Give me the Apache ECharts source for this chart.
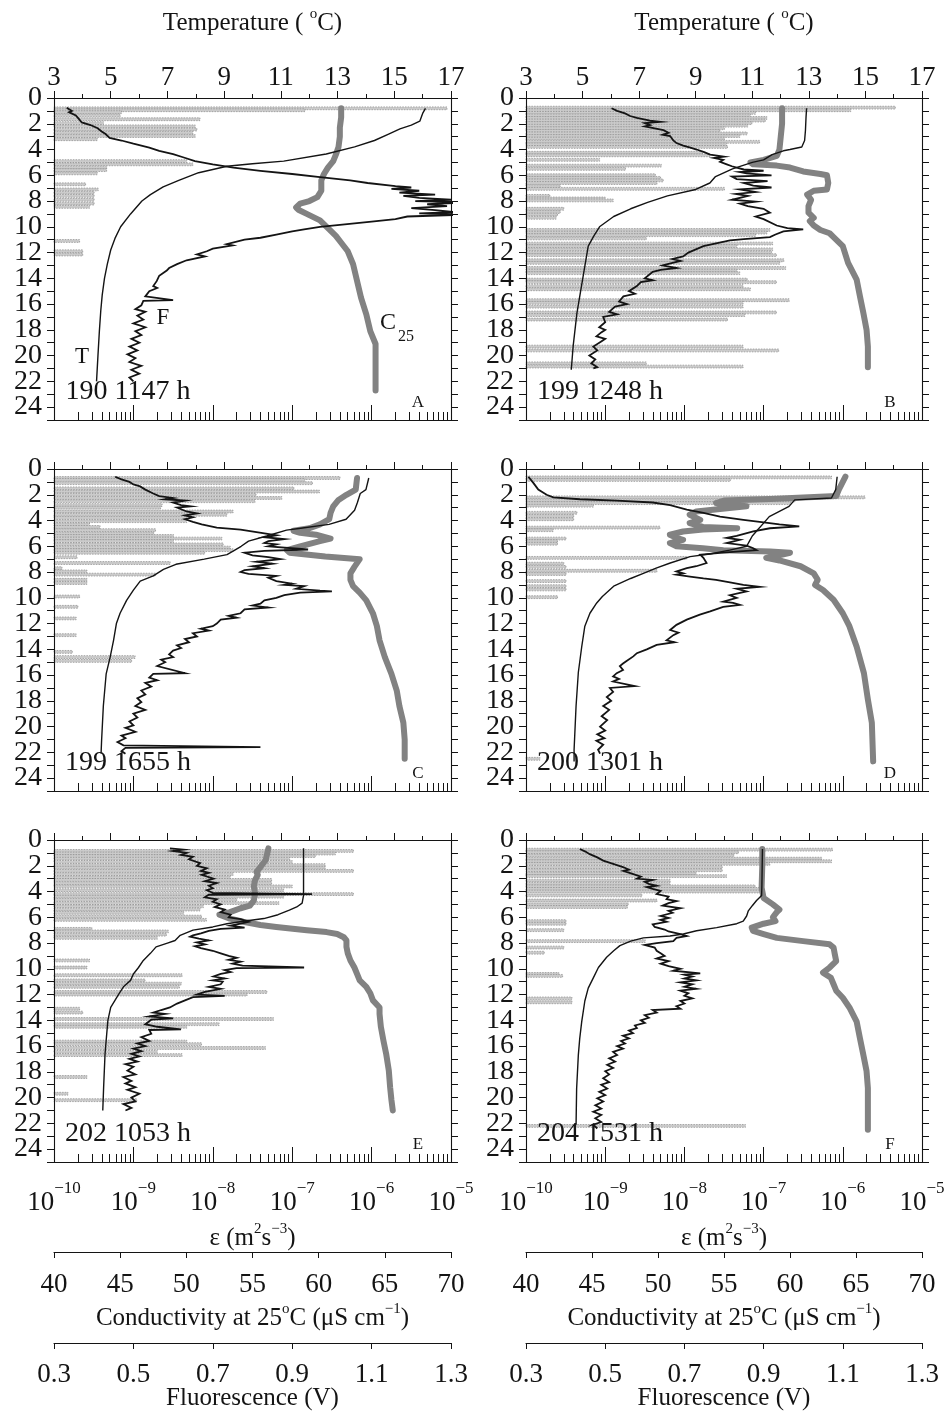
<!DOCTYPE html>
<html>
<head>
<meta charset="utf-8">
<script src="https://cdn.jsdelivr.net/npm/echarts@6/dist/echarts.min.js"></script>
<style>
  html, body { margin: 0; padding: 0; background: #ffffff; }
  #chart { width: 950px; height: 1416px; }
</style>
</head>
<body>
<div id="chart"></div>
<script>
// ---------- Axis tick values ----------
const tempMajor = [3, 5, 7, 9, 11, 13, 15, 17];
const tempMinor = [4, 6, 8, 10, 12, 14, 16];
const depthLabels = [0, 2, 4, 6, 8, 10, 12, 14, 16, 18, 20, 22, 24];
const condTicks = [40, 45, 50, 55, 60, 65, 70];
const fluoTicks = [0.3, 0.5, 0.7, 0.9, 1.1, 1.3];
const decades = [-10, -9, -8, -7, -6, -5];

// ---------- Profile labels ----------
const stamps = ['190 1147 h', '199 1248 h', '199 1655 h', '200 1301 h', '202 1053 h', '204 1531 h'];
const letters = ['A', 'B', 'C', 'D', 'E', 'F'];

// ---------- Profile A : [value, depth m] ----------
const tempA = [[16.1,0.8],[16.0,1.2],[15.9,1.8],[15.6,2.1],[15.2,2.4],[14.8,2.8],[14.3,3.3],[13.6,3.8],[12.6,4.35],[11.1,4.9],[10.0,5.1],[9.1,5.3],[8.1,5.8],[7.4,6.4],[6.85,6.9],[6.4,7.5],[6.1,8.0],[5.7,9.0],[5.35,10.0],[5.15,10.9],[5.0,11.8],[4.88,12.9],[4.78,14.0],[4.7,15.3],[4.65,16.5],[4.6,18.1],[4.55,20.0],[4.5,22.0]];
const condA = [[61.7,0.8],[61.7,1.5],[61.6,2.3],[61.6,3.0],[61.5,3.8],[61.3,4.4],[61.1,4.9],[60.7,5.4],[60.4,5.9],[60.2,6.4],[60.2,7.2],[59.9,7.7],[59.3,8.0],[58.6,8.2],[58.3,8.5],[58.5,8.7],[59.1,9.0],[60.1,9.5],[60.8,10.2],[61.3,10.7],[61.6,11.1],[62.2,11.9],[62.6,12.9],[62.9,14.2],[63.2,15.5],[63.6,16.8],[63.9,18.1],[64.3,19.1],[64.3,20.7],[64.3,22.7]];
const fluoA = [[0.332,0.75],[0.345,1.0],[0.338,1.1],[0.355,1.35],[0.362,1.6],[0.37,1.9],[0.392,2.1],[0.41,2.35],[0.42,2.6],[0.43,2.8],[0.425,2.95],[0.44,3.1],[0.47,3.3],[0.5,3.55],[0.54,3.85],[0.565,4.1],[0.6,4.35],[0.625,4.6],[0.655,4.9],[0.7,5.15],[0.752,5.4],[0.82,5.65],[0.9,5.9],[0.97,6.15],[1.046,6.4],[1.09,6.6],[1.16,6.85],[1.2,6.95],[1.15,7.05],[1.22,7.2],[1.17,7.35],[1.26,7.5],[1.18,7.6],[1.22,7.75],[1.3,7.9],[1.21,8.0],[1.34,8.1],[1.24,8.25],[1.29,8.4],[1.2,8.55],[1.26,8.7],[1.31,8.85],[1.22,8.95],[1.34,9.05],[1.19,9.2],[1.16,9.4],[1.1,9.6],[1.02,9.85],[0.97,10.0],[0.93,10.2],[0.9,10.35],[0.86,10.6],[0.82,10.85],[0.78,11.0],[0.735,11.35],[0.75,11.45],[0.7,11.7],[0.685,11.9],[0.66,12.15],[0.68,12.3],[0.634,12.6],[0.61,12.9],[0.59,13.2],[0.584,13.4],[0.565,13.8],[0.559,14.2],[0.55,14.6],[0.56,14.75],[0.54,15.0],[0.53,15.4],[0.6,15.7],[0.525,15.75],[0.52,16.1],[0.505,16.4],[0.53,16.6],[0.51,16.9],[0.525,17.2],[0.5,17.5],[0.53,17.8],[0.505,18.1],[0.52,18.4],[0.495,18.7],[0.515,19.0],[0.49,19.3],[0.51,19.6],[0.485,19.9],[0.505,20.2],[0.49,20.5],[0.52,20.8],[0.495,21.1],[0.515,21.4],[0.49,21.7],[0.5,22.0]];
const epsA = [[8.9e-6,0.8],[1.45e-7,0.95],[7.1e-10,1.1],[6.8e-10,1.35],[6.9e-9,1.65],[4.2e-10,1.95],[6.0e-9,2.2],[6.3e-9,2.45],[5.6e-9,2.7],[6.0e-9,2.95],[3.5e-10,3.2],[4.7e-9,4.9],[5.6e-9,5.15],[4.6e-10,5.4],[4.6e-10,5.6],[3.5e-10,5.85],[2.5e-10,6.7],[3.6e-10,7.1],[3.2e-10,7.35],[3.2e-10,7.6],[3.2e-10,7.9],[3.2e-10,8.2],[2.8e-10,8.45],[2.1e-10,11.1],[2.3e-10,11.9],[2.3e-10,12.15]];

// ---------- Profile B ----------
const tempB = [[12.92,0.8],[12.9,1.5],[12.88,2.5],[12.85,3.3],[12.75,3.8],[12.33,4.0],[12.1,4.1],[11.7,4.4],[11.4,4.8],[11.0,5.0],[10.3,5.5],[9.7,6.1],[9.5,6.6],[9.0,7.1],[8.0,7.6],[7.3,8.1],[6.7,8.6],[6.1,9.2],[5.6,10.0],[5.4,10.7],[5.2,11.5],[5.1,12.8],[5.0,14.1],[4.8,16.7],[4.67,19.2],[4.6,21.1]];
const condB = [[59.4,0.8],[59.4,2.0],[59.3,3.0],[59.2,4.0],[59.0,4.5],[58.0,4.8],[57.0,5.0],[57.2,5.15],[59.0,5.25],[60.0,5.4],[61.0,5.7],[62.3,5.9],[62.8,6.0],[62.9,6.6],[62.8,7.1],[61.8,7.2],[61.3,7.5],[61.6,7.9],[61.4,8.4],[61.4,8.9],[61.8,9.3],[61.5,9.55],[61.8,9.9],[62.3,10.25],[63.0,10.5],[63.3,10.8],[64.0,11.5],[64.4,12.8],[65.05,14.1],[65.3,15.4],[65.56,16.7],[65.8,18.0],[65.9,19.3],[65.9,20.9]];
const fluoB = [[0.516,0.8],[0.53,1.0],[0.55,1.2],[0.563,1.4],[0.58,1.55],[0.613,1.75],[0.64,1.85],[0.6,1.95],[0.613,2.1],[0.6,2.2],[0.625,2.35],[0.647,2.5],[0.66,2.7],[0.645,2.85],[0.664,2.95],[0.672,3.3],[0.68,3.5],[0.697,3.7],[0.715,3.85],[0.731,4.0],[0.75,4.2],[0.765,4.4],[0.8,4.55],[0.775,4.65],[0.798,4.8],[0.79,4.95],[0.807,5.15],[0.82,5.3],[0.832,5.4],[0.85,5.55],[0.9,5.65],[0.84,5.75],[0.857,5.85],[0.92,6.0],[0.82,6.1],[0.832,6.3],[0.91,6.45],[0.85,6.6],[0.874,6.8],[0.92,6.95],[0.84,7.1],[0.88,7.3],[0.83,7.45],[0.86,7.6],[0.82,7.9],[0.88,8.05],[0.84,8.2],[0.86,8.4],[0.9,8.6],[0.916,8.9],[0.88,9.2],[0.9,9.4],[0.933,9.9],[0.96,10.1],[1.0,10.2],[0.95,10.35],[0.93,10.6],[0.916,10.8],[0.85,10.95],[0.815,11.05],[0.748,11.5],[0.71,12.0],[0.697,12.3],[0.67,12.5],[0.69,12.65],[0.67,12.8],[0.645,13.0],[0.68,13.2],[0.64,13.35],[0.62,13.5],[0.6,14.0],[0.62,14.15],[0.59,14.3],[0.58,14.6],[0.56,15.0],[0.575,15.2],[0.546,15.4],[0.535,15.8],[0.555,16.0],[0.525,16.2],[0.51,16.6],[0.53,16.8],[0.495,17.0],[0.5,17.4],[0.485,17.8],[0.5,18.0],[0.49,18.2],[0.478,18.5],[0.5,18.7],[0.49,18.9],[0.47,19.3],[0.48,19.6],[0.46,20.0],[0.475,20.3],[0.465,20.6],[0.48,20.9],[0.47,21.0]];
const epsB = [[4.6e-6,0.75],[1.26e-6,0.95],[7.9e-8,1.15],[6.8e-8,1.35],[1.1e-7,1.55],[1.05e-7,1.75],[7.1e-8,1.95],[6.3e-8,2.15],[3.2e-8,2.35],[2.8e-8,2.55],[6.2e-8,2.75],[5.0e-8,2.95],[3.2e-8,3.15],[8.9e-8,3.4],[3.4e-8,3.6],[3.5e-8,3.8],[1.7e-8,4.25],[2.1e-8,4.45],[8.5e-10,4.8],[5.1e-9,5.25],[1.8e-9,5.5],[4.3e-9,6.0],[5.0e-9,6.2],[5.4e-9,6.4],[4.5e-9,6.6],[2.7e-10,6.85],[3.2e-8,7.05],[2.0e-10,7.6],[1.0e-9,7.8],[1.26e-9,7.95],[3.0e-10,8.6],[2.7e-10,8.85],[2.5e-10,9.05],[2.4e-10,9.3],[1.2e-7,10.25],[1.1e-7,10.45],[7.9e-8,10.65],[3.3e-9,10.9],[1.3e-7,11.3],[4.6e-8,11.5],[1.3e-7,11.75],[1.26e-7,12.0],[1.45e-7,12.2],[1.8e-7,12.6],[1.6e-7,12.8],[1.9e-7,13.2],[4.6e-8,13.4],[5.0e-8,13.6],[6.2e-8,14.1],[1.45e-7,14.3],[5.5e-8,14.6],[6.8e-8,14.85],[2.1e-7,15.7],[5.5e-8,15.9],[5.5e-8,16.2],[1.45e-7,16.65],[5.8e-8,16.85],[3.5e-8,17.2],[5.5e-8,19.3],[1.55e-7,19.6],[3.3e-9,20.6],[5.5e-8,20.85]];

// ---------- Profile C ----------
const tempC = [[14.1,0.7],[14.0,1.6],[13.8,1.9],[13.7,2.6],[13.6,3.2],[13.3,3.9],[12.7,4.3],[11.7,4.6],[11.2,4.75],[10.5,5.2],[9.86,5.6],[9.6,6.0],[9.3,6.4],[9.1,6.65],[8.3,7.0],[7.3,7.4],[6.86,7.8],[6.5,8.3],[6.04,8.7],[5.8,9.4],[5.56,10.2],[5.33,11.2],[5.2,12.0],[5.1,13.3],[4.98,14.6],[4.84,15.9],[4.74,18.4],[4.68,21.0],[4.66,22.1]];
const condC = [[62.9,0.7],[62.8,1.6],[62.1,2.0],[61.5,2.4],[61.1,2.9],[60.9,3.4],[60.8,3.9],[60.1,4.3],[59.3,4.6],[58.1,4.8],[58.6,4.95],[59.8,5.1],[60.9,5.4],[60.1,5.6],[58.6,6.0],[57.6,6.3],[57.8,6.5],[60.5,6.8],[63.1,7.0],[62.7,7.6],[62.4,8.1],[62.4,8.6],[62.6,9.1],[63.1,9.6],[63.6,10.2],[64.1,11.2],[64.4,12.2],[64.6,13.3],[65.0,14.6],[65.5,15.9],[65.9,17.2],[66.1,18.4],[66.4,19.7],[66.5,21.0],[66.5,22.5]];
const fluoC = [[0.454,0.6],[0.47,0.8],[0.49,1.0],[0.5,1.2],[0.517,1.35],[0.53,1.6],[0.55,1.9],[0.565,2.1],[0.6,2.25],[0.58,2.35],[0.63,2.45],[0.6,2.6],[0.62,2.8],[0.645,2.9],[0.61,3.0],[0.634,3.3],[0.66,3.45],[0.63,3.6],[0.65,3.75],[0.63,3.9],[0.65,4.1],[0.672,4.3],[0.71,4.55],[0.77,4.7],[0.83,5.0],[0.86,5.15],[0.83,5.3],[0.88,5.45],[0.84,5.6],[0.83,5.75],[0.86,5.85],[0.84,6.0],[0.94,6.25],[0.83,6.35],[0.78,6.5],[0.8,6.7],[0.84,6.85],[0.87,7.0],[0.81,7.2],[0.85,7.35],[0.8,7.55],[0.83,7.7],[0.78,7.85],[0.77,8.0],[0.79,8.15],[0.86,8.3],[0.84,8.45],[0.86,8.7],[0.9,8.9],[0.88,9.0],[0.93,9.1],[0.91,9.3],[0.97,9.45],[1.0,9.5],[0.92,9.6],[0.88,9.8],[0.86,10.0],[0.83,10.2],[0.82,10.45],[0.8,10.6],[0.84,10.75],[0.78,10.9],[0.77,11.2],[0.74,11.4],[0.76,11.55],[0.72,11.7],[0.71,12.0],[0.7,12.2],[0.67,12.4],[0.69,12.55],[0.65,12.75],[0.66,13.0],[0.63,13.2],[0.64,13.45],[0.61,13.7],[0.62,13.9],[0.6,14.1],[0.59,14.4],[0.6,14.6],[0.57,14.8],[0.58,15.0],[0.56,15.3],[0.63,15.85],[0.55,15.9],[0.54,16.2],[0.56,16.4],[0.53,16.6],[0.545,16.9],[0.52,17.2],[0.53,17.5],[0.51,17.8],[0.52,18.1],[0.505,18.4],[0.53,18.7],[0.5,19.0],[0.51,19.3],[0.49,19.6],[0.5,19.9],[0.48,20.1],[0.505,20.4],[0.47,20.7],[0.48,20.9],[0.46,21.2],[0.475,21.45],[0.82,21.6],[0.48,21.65],[0.47,21.9],[0.48,22.1]];
const epsC = [[4.0e-7,0.7],[1.45e-7,0.85],[1.8e-7,1.1],[1.05e-7,1.5],[2.2e-7,1.75],[3.5e-8,2.0],[7.4e-8,2.25],[3.4e-8,2.5],[2.3e-9,2.8],[2.2e-9,3.0],[1.8e-8,3.3],[1.5e-8,3.55],[4.7e-9,3.8],[4.7e-9,4.05],[2.8e-10,4.3],[3.8e-10,4.5],[1.9e-9,4.75],[1.8e-9,5.0],[3.2e-9,5.2],[1.3e-8,5.4],[3.2e-9,5.6],[1.35e-8,5.85],[1.66e-8,6.1],[1.8e-8,6.3],[7.9e-9,6.5],[1.95e-10,6.85],[2.9e-9,7.3],[1.26e-10,7.7],[2.6e-10,7.95],[1.9e-9,8.2],[2.6e-10,8.6],[2.6e-10,8.85],[2.1e-10,9.9],[2.0e-10,10.7],[1.9e-10,11.6],[1.9e-10,12.9],[1.7e-10,14.2],[1.05e-9,14.6],[9.5e-10,14.9]];

// ---------- Profile D ----------
const tempD = [[14.0,0.6],[13.95,1.6],[13.8,2.25],[12.5,2.4],[12.3,2.9],[11.6,3.7],[11.4,4.2],[11.2,4.7],[11.0,5.2],[10.9,5.6],[10.8,6.0],[10.2,6.3],[9.5,6.6],[8.8,6.8],[8.1,7.3],[7.6,7.7],[7.15,8.1],[6.7,8.5],[6.1,9.1],[5.7,9.9],[5.5,10.4],[5.26,11.2],[5.08,12.2],[4.97,13.8],[4.85,15.8],[4.77,18.4],[4.7,21.8],[4.7,22.7]];
const condD = [[64.2,0.6],[63.7,1.6],[63.5,2.1],[63.5,2.25],[58.5,2.33],[55.0,2.45],[54.4,2.65],[56.7,2.9],[54.7,3.1],[52.9,3.3],[52.4,3.55],[53.2,3.95],[52.4,4.2],[53.4,4.5],[56.0,4.6],[53.4,4.7],[51.9,4.85],[50.9,5.1],[51.4,5.35],[51.9,5.5],[50.9,5.75],[51.4,6.0],[53.4,6.15],[54.95,6.3],[58.5,6.4],[60.0,6.5],[59.0,6.75],[58.2,6.9],[59.2,7.1],[60.8,7.55],[61.8,8.1],[62.1,8.6],[61.9,9.0],[62.5,9.4],[63.3,10.15],[64.0,11.2],[64.5,12.2],[65.05,13.8],[65.6,15.85],[65.9,17.9],[66.2,19.7],[66.3,22.7]];
const fluoD = [[0.306,0.6],[0.319,1.1],[0.331,1.6],[0.344,1.85],[0.352,2.0],[0.369,2.2],[0.436,2.35],[0.529,2.45],[0.62,2.6],[0.664,2.8],[0.706,3.15],[0.748,3.4],[0.79,3.7],[0.849,3.95],[0.89,4.1],[0.94,4.3],[0.99,4.45],[0.916,4.6],[0.874,4.85],[0.832,5.2],[0.807,5.35],[0.84,5.5],[0.807,5.75],[0.857,5.95],[0.874,6.15],[0.882,6.3],[0.798,6.5],[0.74,6.65],[0.748,6.9],[0.756,7.3],[0.73,7.55],[0.706,7.7],[0.68,7.95],[0.697,8.1],[0.68,8.2],[0.714,8.35],[0.748,8.5],[0.78,8.6],[0.815,8.8],[0.849,9.0],[0.89,9.15],[0.832,9.3],[0.857,9.5],[0.815,9.8],[0.832,10.0],[0.798,10.3],[0.823,10.4],[0.84,10.55],[0.798,10.7],[0.765,11.05],[0.739,11.3],[0.706,11.7],[0.68,12.1],[0.664,12.5],[0.685,12.7],[0.672,12.9],[0.655,13.3],[0.675,13.45],[0.63,13.65],[0.605,14.0],[0.58,14.3],[0.571,14.55],[0.554,14.9],[0.545,15.1],[0.537,15.3],[0.545,15.6],[0.529,15.85],[0.52,16.1],[0.535,16.3],[0.52,16.5],[0.575,16.85],[0.512,17.0],[0.52,17.3],[0.504,17.7],[0.515,18.0],[0.495,18.4],[0.51,18.7],[0.491,19.2],[0.505,19.5],[0.487,20.0],[0.5,20.3],[0.48,20.6],[0.498,20.9],[0.478,21.1],[0.495,21.4],[0.482,21.8],[0.487,22.1]];
const epsD = [[7.2e-7,0.65],[3.8e-8,0.85],[1.9e-6,2.2],[2.5e-7,2.45],[2.2e-7,2.65],[7.1e-10,2.85],[4.4e-10,3.4],[4.0e-10,3.65],[4.0e-10,3.9],[4.9e-9,4.55],[2.2e-10,4.75],[3.2e-10,5.4],[2.5e-10,5.6],[2.5e-10,5.8],[1.07e-8,6.9],[3.0e-10,7.35],[3.2e-10,7.6],[4.5e-9,7.9],[3.2e-10,8.15],[3.2e-10,8.7],[3.2e-10,9.1],[3.2e-10,9.35],[2.5e-10,9.95],[1.5e-10,22.5]];

// ---------- Profile E ----------
const tempE = [[11.8,0.65],[11.8,2.0],[11.8,3.0],[11.8,4.3],[11.75,4.9],[11.56,5.2],[11.3,5.45],[10.9,5.8],[10.4,6.1],[9.56,6.35],[9.1,6.5],[8.6,6.75],[7.9,7.0],[7.45,7.4],[7.27,7.8],[7.0,8.0],[6.6,8.3],[6.4,8.8],[6.15,9.35],[5.98,9.9],[5.8,10.4],[5.7,10.9],[5.45,11.4],[5.3,11.9],[5.15,12.45],[5.0,13.0],[4.9,14.0],[4.85,15.3],[4.8,16.6],[4.75,19.2],[4.72,21.0]];
const condE = [[56.2,0.65],[56.0,1.55],[55.6,2.1],[55.3,2.5],[55.4,2.7],[55.2,3.1],[55.1,3.6],[55.2,4.15],[55.1,4.7],[54.8,5.1],[54.1,5.3],[53.3,5.6],[52.5,5.8],[53.3,6.1],[54.3,6.35],[55.6,6.6],[56.8,6.75],[59.1,7.0],[60.6,7.15],[61.4,7.3],[61.9,7.55],[62.1,7.8],[62.1,8.3],[62.2,8.8],[62.4,9.35],[62.7,9.9],[62.9,10.4],[63.1,10.9],[63.6,11.4],[63.9,11.9],[64.1,12.45],[64.6,13.0],[64.6,13.5],[64.7,14.5],[64.9,15.6],[65.1,16.6],[65.3,17.9],[65.4,19.2],[65.5,20.2],[65.6,21.0]];
const fluoE = [[0.592,0.65],[0.626,0.75],[0.6,0.85],[0.634,1.0],[0.62,1.15],[0.65,1.3],[0.64,1.5],[0.668,1.8],[0.66,2.0],[0.685,2.2],[0.67,2.4],[0.69,2.55],[0.672,2.7],[0.702,3.0],[0.68,3.2],[0.71,3.35],[0.69,3.55],[0.7,3.75],[0.685,3.9],[0.7,4.1],[0.95,4.2],[0.69,4.25],[0.68,4.45],[0.71,4.6],[0.7,4.8],[0.72,5.0],[0.705,5.2],[0.73,5.4],[0.72,5.6],[0.745,5.8],[0.74,6.0],[0.77,6.15],[0.79,6.35],[0.77,6.5],[0.745,6.65],[0.78,6.8],[0.72,6.9],[0.69,7.05],[0.67,7.25],[0.65,7.4],[0.643,7.5],[0.665,7.65],[0.69,7.8],[0.66,7.95],[0.68,8.1],[0.655,8.25],[0.67,8.4],[0.7,8.6],[0.72,8.8],[0.74,9.0],[0.76,9.15],[0.74,9.3],[0.77,9.45],[0.75,9.6],[0.775,9.75],[0.93,9.9],[0.76,9.95],[0.73,10.1],[0.745,10.25],[0.72,10.4],[0.702,10.6],[0.73,10.75],[0.7,10.9],[0.725,11.0],[0.72,11.2],[0.69,11.4],[0.72,11.55],[0.68,11.8],[0.66,12.0],[0.73,12.1],[0.65,12.2],[0.63,12.45],[0.61,12.7],[0.592,13.0],[0.57,13.2],[0.55,13.4],[0.58,13.5],[0.54,13.7],[0.6,13.85],[0.545,13.95],[0.55,14.1],[0.53,14.3],[0.56,14.5],[0.62,14.7],[0.54,14.75],[0.545,15.05],[0.52,15.3],[0.54,15.6],[0.51,15.8],[0.53,16.0],[0.5,16.2],[0.52,16.4],[0.495,16.6],[0.515,16.8],[0.49,17.0],[0.51,17.2],[0.48,17.4],[0.5,17.6],[0.485,17.9],[0.505,18.2],[0.475,18.4],[0.495,18.7],[0.48,18.9],[0.505,19.2],[0.485,19.4],[0.515,19.7],[0.495,20.0],[0.505,20.3],[0.475,20.5],[0.495,20.8],[0.48,21.0]];
const epsE = [[5.9e-7,0.85],[3.5e-7,1.05],[1.95e-7,1.25],[9.3e-8,1.45],[1.0e-7,1.7],[2.6e-7,1.95],[2.6e-7,2.15],[5.9e-7,2.4],[1.8e-8,2.65],[1.66e-8,2.9],[5.5e-8,3.1],[5.5e-8,3.35],[1.0e-7,3.6],[7.8e-8,3.9],[5.9e-7,4.2],[7.8e-8,4.4],[2.0e-8,4.65],[6.8e-8,4.9],[7.6e-9,5.15],[6.9e-9,5.4],[4.3e-9,5.65],[7.2e-9,5.95],[8.3e-9,6.2],[3.0e-10,6.9],[2.75e-9,7.1],[2.6e-9,7.35],[2.0e-9,7.6],[2.8e-10,9.35],[2.6e-10,9.9],[4.1e-9,10.5],[1.4e-9,10.9],[4.0e-9,11.15],[3.8e-9,11.4],[4.8e-8,11.8],[2.7e-8,12.0],[2.1e-10,13.1],[2.3e-10,13.4],[5.8e-8,13.9],[1.2e-8,14.3],[4.7e-9,14.5],[4.7e-9,15.65],[7.2e-9,15.85],[4.6e-8,16.15],[2.0e-9,16.45],[4.1e-9,16.7],[2.6e-10,18.4],[1.5e-10,19.7],[1.1e-9,20.2]];

// ---------- Profile F ----------
const tempF = [[11.36,0.7],[11.35,2.0],[11.34,3.5],[11.33,4.3],[11.15,4.7],[11.0,5.1],[10.86,5.5],[10.8,5.9],[10.68,6.3],[10.45,6.5],[9.74,6.8],[9.03,7.05],[8.56,7.3],[8.09,7.45],[7.15,7.6],[6.7,7.85],[6.32,8.2],[6.1,8.6],[5.85,9.1],[5.56,9.9],[5.38,10.7],[5.2,11.5],[5.08,12.5],[4.97,14.1],[4.9,15.4],[4.85,16.7],[4.79,19.3],[4.77,22.1]];
const condF = [[57.9,0.7],[57.9,2.0],[57.85,3.7],[58.0,4.5],[58.7,5.0],[59.2,5.4],[59.0,5.6],[58.7,6.0],[58.9,6.3],[58.0,6.5],[57.1,6.8],[57.2,7.05],[58.0,7.3],[59.0,7.6],[61.0,7.85],[63.0,8.1],[63.3,8.35],[63.4,8.9],[63.5,9.4],[63.0,9.9],[62.5,10.3],[63.1,10.7],[63.3,11.2],[63.5,11.7],[64.0,12.25],[64.5,13.0],[65.05,14.1],[65.3,15.4],[65.56,16.7],[65.8,17.95],[65.9,19.25],[65.9,20.5],[65.9,22.5]];
const fluoF = [[0.436,0.7],[0.45,0.9],[0.461,1.1],[0.48,1.35],[0.495,1.6],[0.52,1.85],[0.545,2.1],[0.56,2.3],[0.546,2.4],[0.571,2.65],[0.59,2.85],[0.58,3.0],[0.62,3.1],[0.6,3.25],[0.61,3.4],[0.63,3.55],[0.605,3.65],[0.62,3.8],[0.64,3.95],[0.63,4.2],[0.66,4.4],[0.655,4.6],[0.68,4.75],[0.66,4.9],[0.645,5.1],[0.69,5.3],[0.66,5.5],[0.67,5.65],[0.64,5.9],[0.66,6.05],[0.64,6.2],[0.655,6.35],[0.62,6.55],[0.625,6.75],[0.65,6.95],[0.66,7.1],[0.69,7.3],[0.706,7.45],[0.68,7.6],[0.672,7.85],[0.63,8.0],[0.6,8.15],[0.625,8.35],[0.63,8.6],[0.64,8.8],[0.65,9.0],[0.63,9.2],[0.66,9.4],[0.64,9.6],[0.66,9.8],[0.69,10.0],[0.672,10.15],[0.74,10.35],[0.7,10.45],[0.72,10.6],[0.7,10.75],[0.73,10.9],[0.69,11.05],[0.72,11.2],[0.7,11.4],[0.73,11.55],[0.69,11.7],[0.71,11.9],[0.7,12.1],[0.72,12.3],[0.69,12.5],[0.7,12.7],[0.68,12.9],[0.69,13.1],[0.62,13.2],[0.63,13.4],[0.6,13.6],[0.61,13.8],[0.59,14.0],[0.6,14.2],[0.575,14.4],[0.58,14.6],[0.56,14.8],[0.57,15.0],[0.545,15.2],[0.56,15.4],[0.54,15.6],[0.55,15.8],[0.53,16.0],[0.545,16.2],[0.52,16.45],[0.53,16.7],[0.51,16.95],[0.525,17.2],[0.505,17.45],[0.52,17.7],[0.5,17.95],[0.51,18.2],[0.495,18.5],[0.51,18.8],[0.49,19.0],[0.505,19.3],[0.485,19.55],[0.5,19.8],[0.48,20.05],[0.495,20.3],[0.475,20.6],[0.49,20.85],[0.47,21.1],[0.49,21.35],[0.475,21.6],[0.49,21.9],[0.47,22.1],[0.48,22.4]];
const epsF = [[7.4e-7,0.75],[4.8e-8,0.95],[4.2e-8,1.2],[5.4e-7,1.45],[7.2e-7,1.65],[1.2e-7,1.85],[3.0e-8,2.1],[3.0e-8,2.35],[1.4e-8,2.6],[3.4e-8,2.8],[6.6e-9,3.15],[6.6e-9,3.4],[7.8e-8,3.6],[1.0e-7,3.8],[1.0e-7,4.0],[2.9e-9,4.3],[4.5e-9,4.7],[1.95e-9,5.0],[1.9e-9,5.2],[3.2e-10,6.3],[3.2e-10,6.5],[3.0e-10,7.0],[3.2e-9,7.85],[3.0e-10,8.35],[1.7e-10,8.75],[2.6e-10,10.4],[2.9e-10,10.55],[3.8e-10,12.3],[3.8e-10,12.6],[5.9e-8,22.2]];

// ---------- Layout ----------
const panels = [
  { temp: tempA, cond: condA, fluo: fluoA, eps: epsA },
  { temp: tempB, cond: condB, fluo: fluoB, eps: epsB },
  { temp: tempC, cond: condC, fluo: fluoC, eps: epsC },
  { temp: tempD, cond: condD, fluo: fluoD, eps: epsD },
  { temp: tempE, cond: condE, fluo: fluoE, eps: epsE },
  { temp: tempF, cond: condF, fluo: fluoF, eps: epsF }
];

const SERIF = "'Liberation Serif','Times New Roman','DejaVu Serif',serif";
const INK = '#141414';
const COL_LEFT = [54, 526];
const COL_W = [397, 396];
const ROW_TOP = [98, 469, 840];
const PANEL_H = 322;
const EPS_MIN = 1e-10, EPS_MAX = 1e-5;
const BAR_HALF = 0.11;          // half thickness of a dissipation bar, in metres

// depth labels are split over two stacked label rings so neighbours never collide
const depthLabelsEven = depthLabels.filter(function (v, k) { return k % 2 === 0; });
const depthLabelsOdd = depthLabels.filter(function (v, k) { return k % 2 === 1; });

// minor ticks of the logarithmic dissipation axis, in decade units
const epsMinor = [];
decades.slice(0, -1).forEach(function (e) {
  for (let k = 2; k <= 9; k++) epsMinor.push(e + Math.log10(k));
});

const axisLine = { show: true, onZero: false, lineStyle: { color: INK, width: 1.1 } };
const tickStyle = { color: INK, width: 1 };
const minus = '\u2212';
const depthLabelStyle = { showMinLabel: true, showMaxLabel: true, margin: 12,
  fontFamily: SERIF, fontSize: 28, color: INK };

function barItem(params, api) {
  const eps = api.value(0), d = api.value(1);
  const a = api.coord([EPS_MIN, d - BAR_HALF]);
  const b = api.coord([eps, d + BAR_HALF]);
  return {
    type: 'rect',
    shape: { x: a[0], y: a[1], width: b[0] - a[0], height: b[1] - a[1] },
    style: { fill: '#cbcbcb', stroke: '#8a8a8a', lineWidth: 0.7, lineDash: [1.5, 1.2] }
  };
}

const grid = [], xAxis = [], yAxis = [], series = [], graphic = [];

panels.forEach(function (p, i) {
  const col = i % 2, row = Math.floor(i / 2);
  const left = COL_LEFT[col], top = ROW_TOP[row], w = COL_W[col];
  grid.push({ left: left, top: top, width: w, height: PANEL_H });
  const xb = xAxis.length, yb = yAxis.length;

  // temperature (top)
  xAxis.push({
    gridIndex: i, type: 'value', position: 'top', min: 3, max: 17, interval: 1, z: 5,
    axisLine: axisLine, splitLine: { show: false },
    axisTick: { show: true, length: 7, customValues: tempMajor, lineStyle: tickStyle },
    axisLabel: { show: row === 0, customValues: tempMajor, showMinLabel: true, showMaxLabel: true,
      margin: 7, fontFamily: SERIF, fontSize: 27, color: INK }
  });
  xAxis.push({
    gridIndex: i, type: 'value', position: 'top', min: 3, max: 17, interval: 1, z: 5,
    axisLine: { show: false, onZero: false }, splitLine: { show: false },
    axisTick: { show: true, length: 4, customValues: tempMinor, lineStyle: tickStyle },
    axisLabel: { show: false }
  });
  // dissipation (bottom, logarithmic)
  xAxis.push({
    gridIndex: i, type: 'log', logBase: 10, position: 'bottom', min: EPS_MIN, max: EPS_MAX, z: 5,
    axisLine: axisLine, splitLine: { show: false }, minorTick: { show: false },
    axisTick: { show: true, inside: true, length: 15, lineStyle: tickStyle },
    axisLabel: {
      show: row === 2, margin: 18, color: INK, showMinLabel: true, showMaxLabel: true,
      formatter: function (v) { return '{b|10}{s|' + minus + (-Math.round(Math.log10(v))) + '}'; },
      rich: {
        b: { fontFamily: SERIF, fontSize: 27, lineHeight: 36, verticalAlign: 'bottom', color: INK },
        s: { fontFamily: SERIF, fontSize: 17, lineHeight: 17, verticalAlign: 'top', color: INK }
      }
    }
  });
  xAxis.push({
    gridIndex: i, type: 'value', position: 'bottom', min: -10, max: -5, interval: 1, z: 5,
    axisLine: { show: false, onZero: false }, splitLine: { show: false },
    axisTick: { show: true, inside: true, length: 8, customValues: epsMinor, lineStyle: tickStyle },
    axisLabel: { show: false }
  });
  // conductivity and fluorescence scales (drawn below the panels)
  xAxis.push({ gridIndex: i, type: 'value', min: 40, max: 70, show: false, axisLine: { onZero: false } });
  xAxis.push({ gridIndex: i, type: 'value', min: 0.3, max: 1.3, show: false, axisLine: { onZero: false } });

  // depth: main left axis with ticks every metre
  yAxis.push({
    gridIndex: i, type: 'value', inverse: true, min: 0, max: 25, interval: 1, position: 'left', z: 5,
    axisLine: axisLine, splitLine: { show: false },
    axisTick: { show: true, length: 7, lineStyle: tickStyle },
    axisLabel: Object.assign({ customValues: depthLabelsEven }, depthLabelStyle)
  });
  // depth: second label ring (2, 6, 10 ... m)
  yAxis.push({
    gridIndex: i, type: 'value', inverse: true, min: 0, max: 25, interval: 1, position: 'left', z: 5,
    axisLine: { show: false, onZero: false }, axisTick: { show: false }, splitLine: { show: false },
    axisLabel: Object.assign({ customValues: depthLabelsOdd }, depthLabelStyle)
  });
  // depth: right frame with ticks every metre
  yAxis.push({
    gridIndex: i, type: 'value', inverse: true, min: 0, max: 25, interval: 1, position: 'right', z: 5,
    axisLine: axisLine, splitLine: { show: false },
    axisTick: { show: true, length: 7, lineStyle: tickStyle },
    axisLabel: { show: false }
  });

  series.push({
    type: 'custom', xAxisIndex: xb + 2, yAxisIndex: yb, data: p.eps,
    encode: { x: 0, y: 1 }, renderItem: barItem, z: 1, silent: true
  });
  series.push({
    type: 'line', xAxisIndex: xb + 4, yAxisIndex: yb, data: p.cond, symbol: 'none', z: 2,
    lineStyle: { color: '#828282', width: 6, cap: 'round', join: 'round' }
  });
  series.push({
    type: 'line', xAxisIndex: xb, yAxisIndex: yb, data: p.temp, symbol: 'none', z: 3,
    lineStyle: { color: INK, width: 1.4 }
  });
  series.push({
    type: 'line', xAxisIndex: xb + 5, yAxisIndex: yb, data: p.fluo, symbol: 'none', z: 4,
    lineStyle: { color: INK, width: 1.8, join: 'miter' }
  });

  // cast time and panel letter
  graphic.push({ type: 'text', x: left + 74, y: top + 294, z: 10,
    style: { text: stamps[i], fontFamily: SERIF, fontSize: 28, fill: INK, align: 'center', verticalAlign: 'middle' } });
  graphic.push({ type: 'text', x: left + 364, y: top + 305, z: 10,
    style: { text: letters[i], fontFamily: SERIF, fontSize: 17, fill: INK, align: 'center', verticalAlign: 'middle' } });
});

// shared conductivity and fluorescence scales under each column
[0, 1].forEach(function (col) {
  const gi = grid.length;
  grid.push({ left: COL_LEFT[col], width: COL_W[col], top: 1232, height: 20 });
  xAxis.push({
    gridIndex: gi, type: 'value', position: 'bottom', min: 40, max: 70, interval: 5,
    axisLine: axisLine, splitLine: { show: false },
    axisTick: { show: true, length: 6, customValues: condTicks, lineStyle: tickStyle },
    axisLabel: { customValues: condTicks, showMinLabel: true, showMaxLabel: true,
      margin: 19, fontFamily: SERIF, fontSize: 27, color: INK }
  });
  yAxis.push({ gridIndex: gi, type: 'value', min: 0, max: 1, show: false });

  const gj = grid.length;
  grid.push({ left: COL_LEFT[col], width: COL_W[col], top: 1323, height: 20 });
  xAxis.push({
    gridIndex: gj, type: 'value', position: 'bottom', min: 0.3, max: 1.3, interval: 0.1,
    axisLine: axisLine, splitLine: { show: false },
    axisTick: { show: true, length: 6, customValues: fluoTicks, lineStyle: tickStyle },
    axisLabel: { customValues: fluoTicks, showMinLabel: true, showMaxLabel: true,
      margin: 18, fontFamily: SERIF, fontSize: 27, color: INK,
      formatter: function (v) { return v.toFixed(1); } }
  });
  yAxis.push({ gridIndex: gj, type: 'value', min: 0, max: 1, show: false });

  const cx = COL_LEFT[col] + COL_W[col] / 2;
  const supRich = {
    n: { fontFamily: SERIF, fontSize: 25, lineHeight: 29, verticalAlign: 'bottom', fill: INK },
    s: { fontFamily: SERIF, fontSize: 15, lineHeight: 15, verticalAlign: 'top', fill: INK }
  };
  graphic.push({ type: 'text', x: cx, y: 21, style: { text: '{n|Temperature ( }{s|o}{n|C)}', rich: supRich, align: 'center', verticalAlign: 'middle' } });
  graphic.push({ type: 'text', x: cx, y: 1236, style: { text: '{n|\u03b5 (m}{s|2}{n|s}{s|' + minus + '3}{n|)}', rich: supRich, align: 'center', verticalAlign: 'middle' } });
  graphic.push({ type: 'text', x: cx, y: 1316, style: { text: '{n|Conductivity at 25}{s|o}{n|C (\u03bcS cm}{s|' + minus + '1}{n|)}', rich: supRich, align: 'center', verticalAlign: 'middle' } });
  graphic.push({ type: 'text', x: cx, y: 1398, style: { text: 'Fluorescence (V)', fontFamily: SERIF, fontSize: 25, fill: INK, align: 'center', verticalAlign: 'middle' } });
});

// curve labels of profile A
graphic.push({ type: 'text', x: 82, y: 357, z: 10, style: { text: 'T', fontFamily: SERIF, fontSize: 23, fill: INK, align: 'center', verticalAlign: 'middle' } });
graphic.push({ type: 'text', x: 163, y: 318, z: 10, style: { text: 'F', fontFamily: SERIF, fontSize: 23, fill: INK, align: 'center', verticalAlign: 'middle' } });
graphic.push({ type: 'text', x: 388, y: 323, z: 10, style: { text: 'C', fontFamily: SERIF, fontSize: 24, fill: INK, align: 'center', verticalAlign: 'middle' } });
graphic.push({ type: 'text', x: 406, y: 337, z: 10, style: { text: '25', fontFamily: SERIF, fontSize: 16, fill: INK, align: 'center', verticalAlign: 'middle' } });

const chart = echarts.init(document.getElementById('chart'), null, { renderer: 'canvas' });
chart.setOption({
  animation: false,
  backgroundColor: '#ffffff',
  grid: grid,
  xAxis: xAxis,
  yAxis: yAxis,
  series: series,
  graphic: graphic
});
</script>
</body>
</html>
